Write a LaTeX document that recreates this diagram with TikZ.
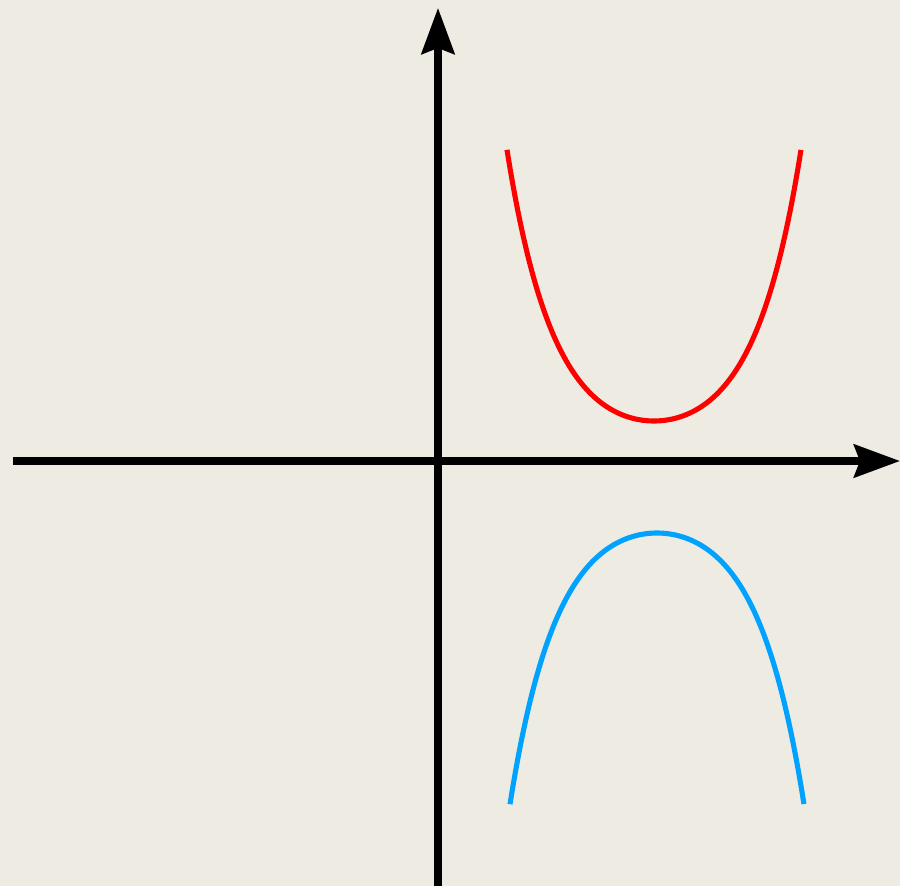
\documentclass[tikz,border=0pt]{standalone}
\usepackage{xcolor}
\usepackage{tikz}
\usetikzlibrary{arrows.meta}
\definecolor{paperbg}{RGB}{238, 235, 227}
\definecolor{upperred}{RGB}{255, 0, 0}
\definecolor{lowerblue}{RGB}{0, 162, 255}
\tikzset{
    axisline/.style={line width=2pt, -{Stealth[length=4.6mm, width=3.3mm, inset=0.6mm]}},
    branch/.style={line width=1.45pt, smooth, samples=120}
}

\begin{document}
\begin{tikzpicture}
    \fill[paperbg] (-4.38,-4.25) rectangle (4.62,4.61);
    \useasboundingbox (-4.38,-4.25) rectangle (4.62,4.61);
    % axes
    \coordinate (xstart) at (-4.25,0);
    \coordinate (xend) at (4.62,0);
    \coordinate (ystart) at (0,-4.3);
    \coordinate (yend) at (0,4.53);
    \draw[axisline] (xstart) -- (xend);
    \draw[axisline] (ystart) -- (yend);
    % the two branches
    \draw[branch, upperred, domain=0.69:3.63]
        plot (\x, {0.40 + 0.26*(cosh((\x-2.16)/0.47)-1)});
    \draw[branch, lowerblue, domain=0.72:3.66]
        plot (\x, {-0.72 - 0.26*(cosh((\x-2.19)/0.47)-1)});
\end{tikzpicture}
\end{document}
